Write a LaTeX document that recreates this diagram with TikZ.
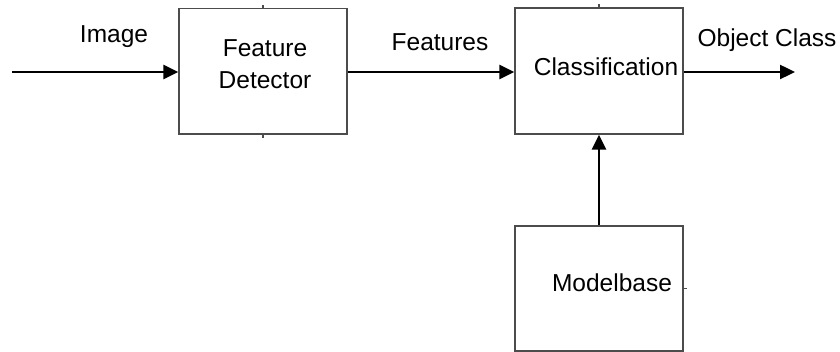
\documentclass[tikz,border=0pt]{standalone}
\usepackage{fontspec}
\setmainfont{Liberation Sans}
\usetikzlibrary{arrows.meta}

\tikzset{
  block/.style={draw=black!70, line width=1.3pt, rectangle, minimum width=168pt, inner sep=0pt},
  lbl/.style={font=\fontsize{24.5}{32}\selectfont, align=center, inner sep=0pt},
  flow/.style={line width=2.4pt, -{Triangle[length=15pt,width=14pt]}},
  tick/.style={draw=black!70, line width=1.3pt}
}

\begin{document}
\begin{tikzpicture}[x=1pt, y=-1pt]
  \fill[white] (0,0) rectangle (840,352);
  \useasboundingbox (0,0) rectangle (840,352);

  % blocks
  \node[block, minimum height=125.5pt] (fd) at (263,71.25) {};
  \node[block, minimum height=126pt]   (cl) at (599,71) {};
  \node[block, minimum height=125pt]   (mb) at (599,288.5) {};

  % block texts
  \node[lbl] (fdt) at (265,64)  {Feature\\Detector};
  \node[lbl] (clt) at (606,67)  {Classification};
  \node[lbl] (mbt) at (612,283) {Modelbase};

  % connection marks on block edges
  \draw[tick] (fd.north) -- ++(0,-3);
  \draw[tick] (fd.south) -- ++(0,3);
  \draw[tick] (cl.north) -- ++(0,-3);
  \draw[tick] (mb.east) -- ++(3,0);
  \draw[tick] (mb.south) -- ++(0,3);

  % signal flow
  \coordinate (src) at (12,72);
  \coordinate (dst) at (795,72);
  \draw[flow] (src) -- (src -| fd.west);
  \draw[flow] (fd.east |- src) -- (src -| cl.west);
  \draw[flow] (cl.east |- src) -- (dst);
  \draw[flow] (mb.north) -- (cl.south);

  % signal labels
  \node[lbl] (limg) at (114,37) {Image};
  \node[lbl] (lfeat) at (440,42) {Features};
  \node[lbl] (lobj) at (767,40) {Object Class};
\end{tikzpicture}
\end{document}
